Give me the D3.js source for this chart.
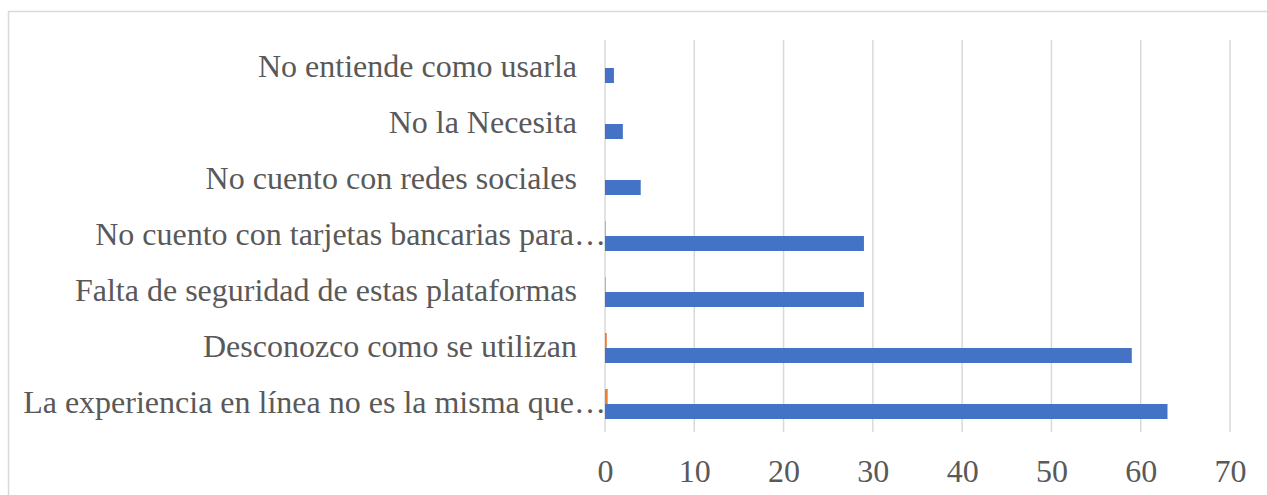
<!DOCTYPE html>
<html>
<head>
<meta charset="utf-8">
<script src="https://cdn.jsdelivr.net/npm/d3@7/dist/d3.min.js"></script>
<style>
  html, body { margin: 0; padding: 0; background: #fff; }
  svg { display: block; }
  text { font-family: "Liberation Serif", "Times New Roman", serif; fill: #595959; }
</style>
</head>
<body>
<svg id="chart" width="1267" height="495"></svg>
<script>
const categories = [
  "No entiende como usarla ",
  "No la Necesita ",
  "No cuento con redes sociales ",
  "No cuento con tarjetas bancarias para…",
  "Falta de seguridad de estas plataformas ",
  "Desconozco como se utilizan ",
  "La experiencia en línea no es la misma que…"
];
const seriesBlue = [1, 2, 4, 29, 29, 59, 63];
const seriesOrange = [0, 0, 0, 0.05, 0.05, 0.2, 0.3];
const tickValues = [0, 10, 20, 30, 40, 50, 60, 70];

const svg = d3.select("#chart");
const W = 1267, H = 495;

// chart border
svg.append("rect")
  .attr("x", 8.5).attr("y", 11.5)
  .attr("width", W + 10).attr("height", H + 10)
  .attr("fill", "none").attr("stroke", "#d9d9d9").attr("stroke-width", 1.5);

const x = d3.scaleLinear().domain([0, 70]).range([605, 1230]);
const y = d3.scaleBand().domain(categories).range([40, 432])
  .paddingInner(0.464).paddingOuter(0.232);
const sub = d3.scaleBand().domain(["orange", "blue"]).range([0, y.bandwidth()]);

// gridlines
svg.append("g").selectAll("line").data(tickValues).join("line")
  .attr("x1", d => x(d)).attr("x2", d => x(d))
  .attr("y1", 40).attr("y2", 432)
  .attr("stroke", "#d9d9d9").attr("stroke-width", 1.5);

// bars
const rows = categories.map((c, i) => ({ c, blue: seriesBlue[i], orange: seriesOrange[i] }));
svg.append("g").selectAll("rect").data(rows).join("rect")
  .attr("x", x(0))
  .attr("y", d => y(d.c) + sub("blue"))
  .attr("width", d => x(d.blue) - x(0))
  .attr("height", sub.bandwidth())
  .attr("fill", "#4472C4");
svg.append("g").selectAll("rect").data(rows.filter(d => d.orange > 0)).join("rect")
  .attr("x", x(0))
  .attr("y", d => y(d.c) + sub("orange"))
  .attr("width", d => Math.max(0.6, x(d.orange) - x(0)))
  .attr("height", sub.bandwidth())
  .attr("fill", "#ED7D31");

// category labels
svg.append("g").selectAll("text").data(categories).join("text")
  .attr("x", d => d.endsWith("…") ? 606 : 585)
  .attr("y", d => y(d) + y.bandwidth() / 2 + 9)
  .attr("text-anchor", "end")
  .attr("font-size", 32)
  .attr("xml:space", "preserve")
  .style("white-space", "pre")
  .text(d => d);

// x axis tick labels
const axis = d3.axisBottom(x).tickValues(tickValues).tickSize(0).tickPadding(0).tickFormat(d3.format("d"));
const ag = svg.append("g").attr("transform", "translate(0,482)").call(axis);
ag.select(".domain").remove();
ag.selectAll("text")
  .attr("dy", 0).attr("y", 0)
  .attr("font-size", 32)
  .attr("font-family", "Liberation Serif, Times New Roman, serif")
  .attr("fill", "#595959");
</script>
</body>
</html>
